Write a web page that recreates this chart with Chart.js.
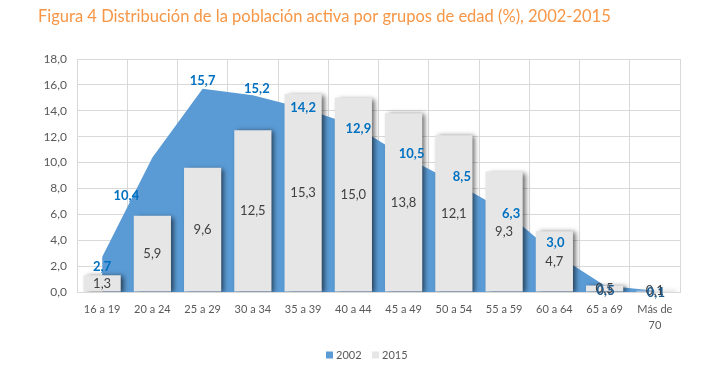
<!DOCTYPE html>
<html><head><meta charset="utf-8">
<script src="https://cdn.jsdelivr.net/npm/chart.js@4.4.1/dist/chart.umd.min.js"></script>
<style>html,body{margin:0;padding:0;background:#fff}#wrap{width:718px;height:379px;position:relative}canvas{display:block}</style>
</head><body><div id="wrap"><canvas id="c" width="718" height="379" style="width:718px;height:379px"></canvas></div>
<script>
const titleText = 'Figura 4 Distribución de la población activa por grupos de edad (%), 2002-2015';
const categories = ['16 a 19','20 a 24','25 a 29','30 a 34','35 a 39','40 a 44','45 a 49','50 a 54','55 a 59','60 a 64','65 a 69','Más de 70'];
const seriesNames = ['2002','2015'];
const values2002 = [2.7,10.4,15.7,15.2,14.2,12.9,10.5,8.5,6.3,3.0,0.5,0.1];
const values2015 = [1.3,5.9,9.6,12.5,15.3,15.0,13.8,12.1,9.3,4.7,0.5,0.1];
const yTickMin = 0, yTickMax = 18, yTickStep = 2;
// manual label nudges (px) for the 2002 labels, as placed in the original
const labelNudge2002 = [[0,10],[-26,38],[0,-8],[4,-6],[0,0],[5,4],[8,-2],[8,-5],[7,3],[1,-10],[1,5],[1,2]];

const FONT = 'Lato, "Open Sans", sans-serif';
const fmt = v => v.toFixed(1).replace('.', ',');
const C_AREA = '#5B9BD5', C_BAR = '#E7E6E6', C_GRID = '#D9D9D9', C_TEXT = '#595959';

const decor = {
  id: 'decor',
  beforeDatasetDraw(chart, args) {
    const ctx = chart.ctx;
    ctx.save();
    if (args.meta.type === 'bar') {
      ctx.shadowColor = 'rgba(0,0,0,0.6)';
      ctx.shadowBlur = 5;
      ctx.shadowOffsetX = 3;
      ctx.shadowOffsetY = 1;
    }
  },
  afterDatasetDraw(chart) { chart.ctx.restore(); },
  afterDraw(chart) {
    const ctx = chart.ctx;
    const x = chart.scales.x, y = chart.scales.y;
    ctx.save();
    ctx.font = '13px ' + FONT;
    ctx.fillStyle = '#404040';
    ctx.textAlign = 'center';
    ctx.textBaseline = 'middle';
    const barMeta = chart.getDatasetMeta(1);
    values2015.forEach((v, i) => {
      const el = barMeta.data[i];
      ctx.fillText(fmt(v), el.x, (el.y + el.base) / 2);
    });
    ctx.font = 'bold 13px ' + FONT;
    values2002.forEach((v, i) => {
      const px = x.getPixelForValue(i), py = y.getPixelForValue(v);
      const n = labelNudge2002[i];
      ctx.fillStyle = v < 1 ? '#1F5A8C' : '#0070C0';
      ctx.fillText(fmt(v), px + n[0], py + n[1]);
    });
    ctx.font = '16.5px ' + FONT;
    ctx.fillStyle = '#F79646';
    ctx.textAlign = 'left';
    ctx.fillText(titleText, 38, 17);
    ctx.font = '11px ' + FONT;
    const colors = [C_AREA, C_BAR];
    let lx = 326;
    seriesNames.forEach((n, i) => {
      ctx.fillStyle = colors[i];
      ctx.fillRect(lx, 351.5, 7, 7);
      ctx.fillStyle = C_TEXT;
      ctx.fillText(n, lx + 10, 355);
      lx += 46;
    });
    ctx.restore();
  }
};

new Chart(document.getElementById('c'), {
  type: 'bar',
  data: {
    labels: categories,
    datasets: [
      { type: 'line', label: seriesNames[0], data: values2002, order: 2,
        fill: 'origin', backgroundColor: C_AREA, borderColor: C_AREA, borderWidth: 0,
        pointRadius: 0, tension: 0 },
      { type: 'bar', label: seriesNames[1], data: values2015, order: 1,
        backgroundColor: C_BAR, borderWidth: 0,
        categoryPercentage: 1, barPercentage: 0.74 }
    ]
  },
  options: {
    responsive: false,
    animation: false,
    devicePixelRatio: 1,
    layout: { padding: { top: 59, right: 38, left: 0, bottom: 0 } },
    plugins: { legend: { display: false }, title: { display: false }, tooltip: { enabled: false } },
    scales: {
      x: {
        offset: true,
        grid: { offset: true, color: C_GRID, drawTicks: false },
        border: { color: C_GRID },
        ticks: {
          padding: 10, color: C_TEXT, maxRotation: 0, autoSkip: false,
          font: { family: FONT, size: 11, lineHeight: 1.4 },
          callback: function(v, i) {
            const s = categories[i];
            if (s.length > 8) { const k = s.lastIndexOf(' '); return [s.slice(0, k), s.slice(k + 1)]; }
            return s;
          }
        },
        afterFit(s) { s.height = 87; }
      },
      y: {
        min: yTickMin, max: yTickMax,
        grid: { color: C_GRID, drawTicks: false },
        border: { display: false },
        ticks: { stepSize: yTickStep, padding: 10, color: C_TEXT,
          font: { family: FONT, size: 12 }, callback: v => fmt(v) },
        afterFit(s) { s.width = 77; }
      }
    }
  },
  plugins: [decor]
});
</script></body></html>
